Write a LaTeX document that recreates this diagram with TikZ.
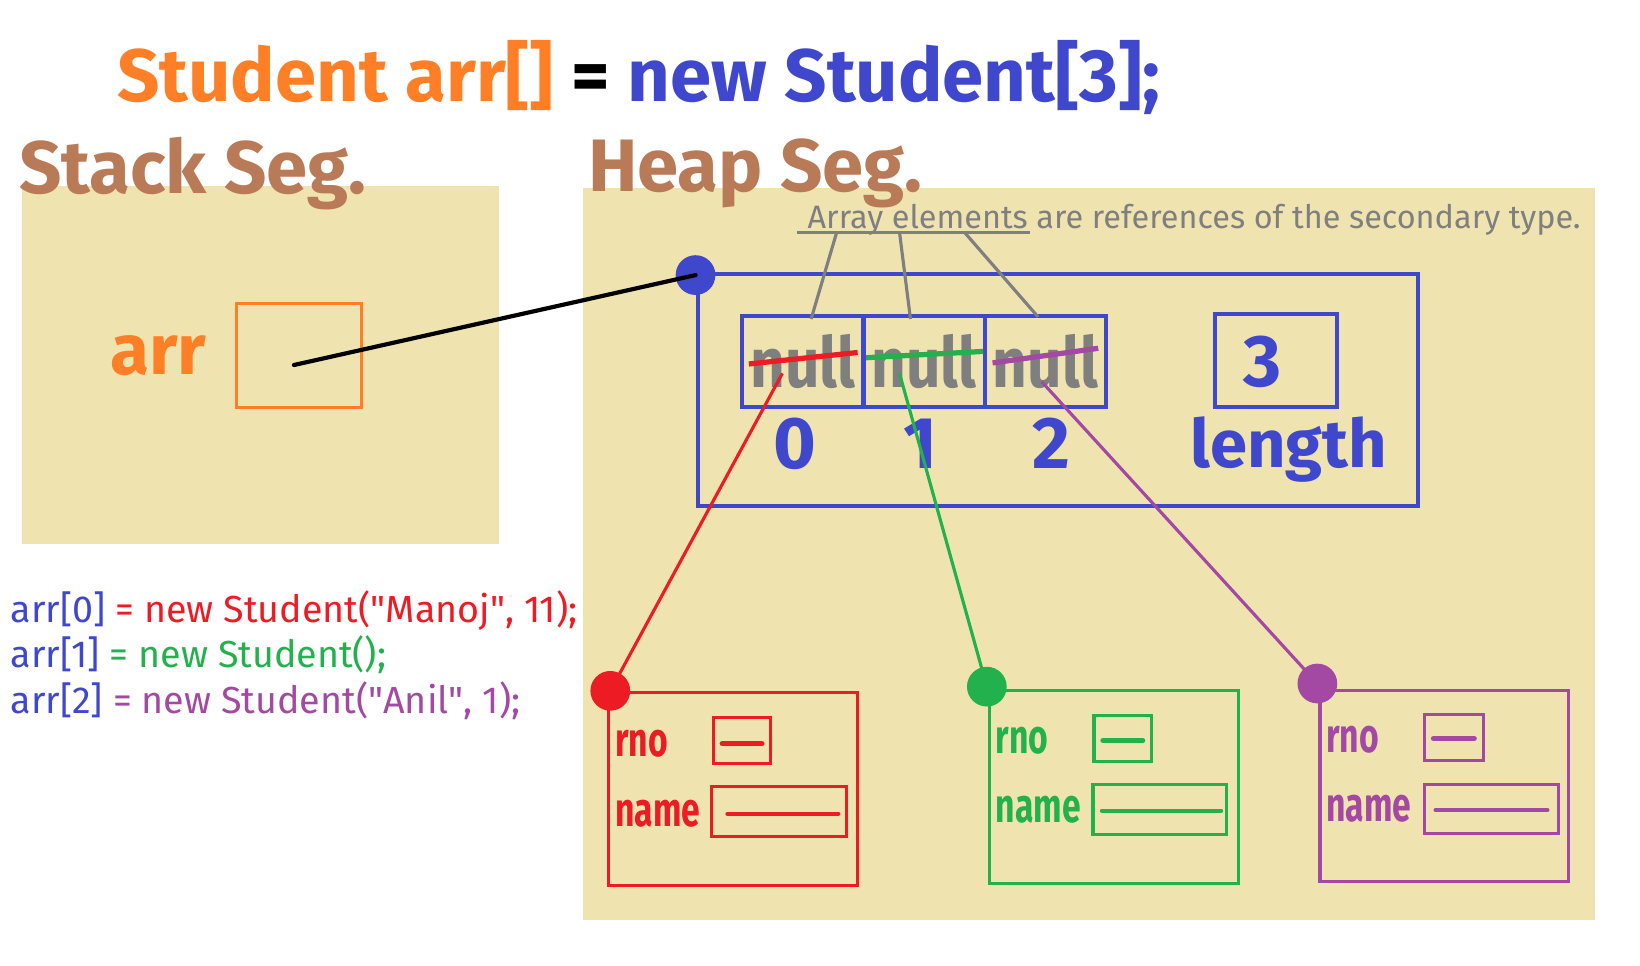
\documentclass[tikz,border=0pt]{standalone}
\usepackage{fontspec}
\setmainfont{Fira Sans}
\newfontfamily\narrowfont[FakeStretch=0.7]{Fira Sans}
\newfontfamily\cellfont[FakeStretch=0.86]{Fira Sans}
\usetikzlibrary{positioning}

\definecolor{segbg}{HTML}{EFE4B0}
\definecolor{segbrown}{HTML}{B97A57}
\definecolor{porange}{HTML}{FF7F27}
\definecolor{pblue}{HTML}{3F48CC}
\definecolor{pred}{HTML}{ED1C24}
\definecolor{pgreen}{HTML}{22B14C}
\definecolor{ppurple}{HTML}{A349A4}
\definecolor{pgray}{HTML}{7F7F7F}

\begin{document}
\begin{tikzpicture}[x=1pt,y=-1pt,
    label/.style={anchor=base west,inner sep=0pt},
    seglabel/.style={label,text=segbrown,font=\bfseries\fontsize{71}{71}\selectfont},
    cell/.style={draw=pblue,line width=4pt,minimum width=116pt,minimum height=87pt,inner sep=0pt,outer sep=0pt,text=pgray,font=\cellfont\bfseries\fontsize{67}{67}\selectfont},
    index/.style={inner sep=0pt,text=pblue,font=\bfseries\fontsize{70}{70}\selectfont},
    refdot/.style={circle,inner sep=0pt,minimum size=38pt},
    objbox/.style={line width=3pt,minimum width=238pt,minimum height=185pt,inner sep=0pt},
    field/.style={line width=3pt,inner sep=0pt},
    fieldname/.style={label,font=\narrowfont\bfseries\fontsize{46}{46}\selectfont},
    codeline/.style={label,font=\fontsize{36}{36}\selectfont}]
    \fill[white] (0,0) rectangle (1568,923);
    \useasboundingbox (0,0) rectangle (1568,923);

    % Segments
    \fill[segbg] (21,178) rectangle (477,520);
    \fill[segbg] (557,180) rectangle (1525,880);
    \node[label,font=\bfseries\fontsize{71}{71}\selectfont] (title) at (112,97)
        {\textcolor{porange}{Student arr[]} = \textcolor{pblue}{new Student[3];}};
    \node[seglabel] (stacklabel) at (18,185) {Stack Seg.};
    \node[seglabel] (heaplabel) at (562,183) {Heap Seg.};

    % Reference variable on the stack
    \node[label,text=porange,font=\bfseries\fontsize{68}{68}\selectfont] (arrname) at (105,358) {arr};
    \node[draw=porange,line width=3pt,minimum width=120pt,minimum height=100pt,inner sep=0pt] (arrbox) at (286,340) {};
    \coordinate (arrref) at (281,349);

    % Array object on the heap
    \node[draw=pblue,line width=4pt,minimum width=689pt,minimum height=222pt,inner sep=0pt] (arrobj) at (1011.5,373) {};
    \node[refdot,fill=pblue] (arrdot) at (665,263) {};
    \draw[line width=4pt,line cap=round] (arrref) -- (arrdot.center);
    \node[cell] (cell0) at (767.5,345.5) {null};
    \node[cell,right=0pt of cell0] (cell1) {null};
    \node[cell,right=0pt of cell1] (cell2) {null};
    \node[index] (idx0) at (760,424) {0};
    \node[index] (idx1) at (880,424) {1};
    \node[index] (idx2) at (1005,424) {2};
    \node[draw=pblue,line width=4pt,minimum width=116pt,minimum height=89pt,inner sep=0pt] (lenbox) at (1220,344.5) {};
    \node[index] (lenval) at (1207,346) {3};
    \node[index,anchor=base west,font=\bfseries\fontsize{64}{64}\selectfont] (lenname) at (1138,447) {length};

    % Note on the elements
    \node[label,text=pgray,font=\fontsize{31}{31}\selectfont] (note) at (772,218)
        {Array elements are references of the secondary type.};
    \coordinate (ulstart) at (762,222);
    \coordinate (ulend) at (985,222);
    \coordinate (ul0) at (800,222);
    \coordinate (ul1) at (860,222);
    \coordinate (ul2) at (922,222);
    \draw[pgray,line width=3pt] (ulstart) -- (ulend);
    \draw[pgray,line width=3pt] (ul0) -- ([xshift=8pt,yshift=-3pt]cell0.north);
    \draw[pgray,line width=3pt] (ul1) -- ([xshift=-13pt,yshift=-3pt]cell1.north);
    \draw[pgray,line width=3pt] (ul2) -- ([xshift=-7pt,yshift=-1pt]cell2.north);

    % null crossed out
    \draw[pred,line width=5pt] (716,348) -- (820,337);
    \draw[pgreen,line width=5pt] (828,342) -- (940,336);
    \draw[ppurple,line width=5pt] (949,347) -- (1050,333);
    \coordinate (ref0) at (748,357);
    \coordinate (ref1) at (860,357);
    \coordinate (ref2) at (996,365);

    % Student objects
    \node[objbox,draw=pred] (obj0) at (701,754.5) {};
    \node[refdot,fill=pred] (dot0) at ([xshift=3pt]obj0.north west) {};
    \draw[pred,line width=3pt] (ref0) -- (dot0.center);
    \node[fieldname,text=pred] (rnoname0) at (588,723) {rno};
    \node[fieldname,text=pred] (namename0) at (588,790) {name};
    \node[field,draw=pred,minimum width=55pt,minimum height=44pt] (rno0) at (709.5,708) {};
    \draw[pred,line width=5pt,line cap=round] ([xshift=10pt,yshift=-3pt]rno0.west) -- ([xshift=-10pt,yshift=-3pt]rno0.east);
    \node[field,draw=pred,minimum width=129pt,minimum height=48pt] (name0) at (744.5,776) {};
    \draw[pred,line width=4pt,line cap=round] ([xshift=17pt,yshift=-2pt]name0.west) -- ([xshift=-9pt,yshift=-2pt]name0.east);

    \node[objbox,draw=pgreen] (obj1) at (1065,752.5) {};
    \node[refdot,fill=pgreen] (dot1) at ([xshift=-1pt,yshift=2pt]obj1.north west) {};
    \draw[pgreen,line width=3pt] (ref1) -- (dot1.center);
    \node[fieldname,text=pgreen] (rnoname1) at (952,720) {rno};
    \node[fieldname,text=pgreen] (namename1) at (952,786) {name};
    \node[field,draw=pgreen,minimum width=55pt,minimum height=44pt] (rno1) at (1073.5,706) {};
    \draw[pgreen,line width=5pt,line cap=round] ([xshift=10pt,yshift=-2pt]rno1.west) -- ([xshift=-10pt,yshift=-2pt]rno1.east);
    \node[field,draw=pgreen,minimum width=128pt,minimum height=48pt] (name1) at (1109,774) {};
    \draw[pgreen,line width=4pt,line cap=round] ([xshift=10pt,yshift=-1pt]name1.west) -- ([xshift=-7pt,yshift=-1pt]name1.east);

    \node[objbox,draw=ppurple,minimum height=183pt] (obj2) at (1381,751.5) {};
    \node[refdot,fill=ppurple] (dot2) at ([xshift=-1pt,yshift=5pt]obj2.north west) {};
    \draw[ppurple,line width=3pt] (ref2) -- (dot2.center);
    \node[fieldname,text=ppurple] (rnoname2) at (1268,719) {rno};
    \node[fieldname,text=ppurple] (namename2) at (1268,785) {name};
    \node[field,draw=ppurple,minimum width=56pt,minimum height=44pt] (rno2) at (1390,705) {};
    \draw[ppurple,line width=5pt,line cap=round] ([xshift=10pt,yshift=-1pt]rno2.west) -- ([xshift=-10pt,yshift=-1pt]rno2.east);
    \node[field,draw=ppurple,minimum width=128pt,minimum height=47pt] (name2) at (1426,773.5) {};
    \draw[ppurple,line width=4pt,line cap=round] ([xshift=12pt,yshift=-1pt]name2.west) -- ([xshift=-12pt,yshift=-1pt]name2.east);

    % Statements
    \node[codeline] (stmt0) at (10,595)
        {\textcolor{pblue}{arr[0]} \textcolor{pred}{= new Student(\textquotedbl Manoj\textquotedbl, 11);}};
    \node[codeline] (stmt1) at (10,638)
        {\textcolor{pblue}{arr[1]} \textcolor{pgreen}{= new Student();}};
    \node[codeline] (stmt2) at (10,682)
        {\textcolor{pblue}{arr[2]} \textcolor{ppurple}{= new Student(\textquotedbl Anil\textquotedbl, 1);}};
\end{tikzpicture}
\end{document}
